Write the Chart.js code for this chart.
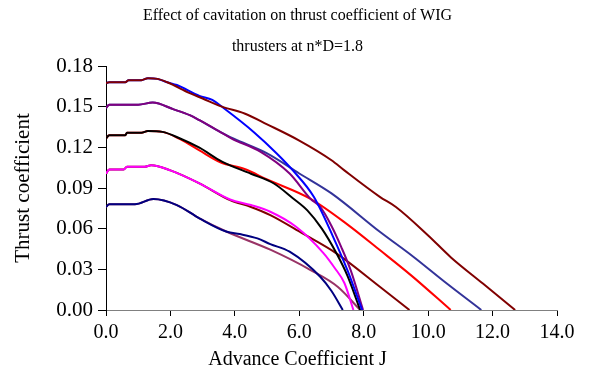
<!DOCTYPE html>
<html>
<head>
<meta charset="utf-8">
<script src="https://cdn.jsdelivr.net/npm/chart.js@4/dist/chart.umd.min.js"></script>
<style>
  html, body { margin: 0; padding: 0; background: #fff; }
  #wrap { width: 595px; height: 375px; }
</style>
</head>
<body>
<div id="wrap"><canvas id="myChart" width="595" height="375"></canvas></div>
<script>
// advance coefficient J and thrust coefficient Kt
const jDarkRed1 = [0, 0.1, 0.6, 0.7, 1.1, 1.3, 1.6, 1.9, 2.6, 3.0, 3.6, 4.3, 5.0, 6.0, 7.0, 7.4, 8.5, 9.0, 10.0, 10.7, 11.7, 12.7];
const ktDarkRed1 = [0.1675, 0.168, 0.168, 0.1695, 0.1695, 0.171, 0.1705, 0.168, 0.160, 0.156, 0.150, 0.145, 0.137, 0.125, 0.1105, 0.103, 0.0835, 0.076, 0.055, 0.039, 0.0195, 0];

const jBlue = [0, 0.1, 0.6, 0.7, 1.1, 1.3, 1.6, 1.9, 2.2, 2.9, 3.3, 3.65, 4.6, 5.3, 5.8, 6.45, 7.05, 7.5, 7.95];
const ktBlue = [0.1675, 0.168, 0.168, 0.1695, 0.1695, 0.171, 0.1705, 0.168, 0.166, 0.158, 0.155, 0.149, 0.131, 0.1155, 0.103, 0.0835, 0.054, 0.029, 0];

const jPurple = [0, 0.1, 1.0, 1.45, 2.1, 2.6, 2.9, 3.5, 3.9, 4.8, 5.7, 6.35, 6.65, 7.0, 7.3, 7.6, 7.98];
const ktPurple = [0.149, 0.1515, 0.1515, 0.153, 0.148, 0.1437, 0.140, 0.132, 0.1265, 0.1167, 0.1007, 0.082, 0.076, 0.062, 0.0466, 0.029, 0];

const jIndigo = [0, 0.1, 1.0, 1.45, 2.1, 2.6, 2.9, 3.5, 3.95, 5.0, 6.0, 7.0, 8.5, 9.5, 10.5, 11.65];
const ktIndigo = [0.149, 0.1515, 0.1515, 0.153, 0.148, 0.1437, 0.140, 0.132, 0.1265, 0.1155, 0.1007, 0.086, 0.0577, 0.040, 0.021, 0];

const jBlack = [0, 0.1, 0.6, 0.65, 1.1, 1.3, 1.75, 2.3, 2.9, 3.6, 4.5, 5.2, 5.8, 6.25, 6.7, 7.15, 7.5, 7.89];
const ktBlack = [0.1265, 0.129, 0.129, 0.1307, 0.1307, 0.132, 0.1314, 0.1265, 0.1197, 0.1095, 0.1005, 0.0935, 0.0825, 0.0735, 0.060, 0.042, 0.025, 0];

const jRed = [0, 0.1, 0.6, 0.65, 1.1, 1.3, 1.75, 2.3, 2.9, 3.55, 4.3, 5.0, 6.35, 7.5, 8.5, 9.5, 10.7];
const ktRed = [0.1265, 0.129, 0.129, 0.1307, 0.1307, 0.132, 0.1314, 0.126, 0.1177, 0.109, 0.104, 0.0963, 0.082, 0.063, 0.0442, 0.025, 0];

const jMagenta = [0, 0.1, 0.55, 0.65, 1.2, 1.4, 2.0, 2.9, 3.85, 4.5, 5.1, 5.9, 6.75, 7.1, 7.4, 7.68];
const ktMagenta = [0.1005, 0.1037, 0.1037, 0.1056, 0.1056, 0.1068, 0.103, 0.0934, 0.0815, 0.0774, 0.0725, 0.0614, 0.042, 0.031, 0.0199, 0];

const jDarkRed2 = [0, 0.1, 0.55, 0.65, 1.2, 1.4, 2.0, 2.9, 3.85, 4.5, 5.1, 6.1, 7.15, 8.5, 9.42];
const ktDarkRed2 = [0.1005, 0.1037, 0.1037, 0.1056, 0.1056, 0.1068, 0.103, 0.0934, 0.081, 0.076, 0.070, 0.0565, 0.0418, 0.0172, 0];

const jNavy = [0, 0.1, 0.9, 1.47, 2.2, 2.9, 3.75, 4.15, 4.7, 5.1, 5.7, 6.65, 7.0, 7.35];
const ktNavy = [0.076, 0.078, 0.078, 0.0818, 0.0774, 0.0676, 0.0577, 0.056, 0.0528, 0.0486, 0.043, 0.0245, 0.014, 0];

const jPlum = [0, 0.1, 0.9, 1.47, 2.2, 2.9, 3.75, 5.1, 6.35, 7.2, 7.89];
const ktPlum = [0.076, 0.078, 0.078, 0.0818, 0.0774, 0.0676, 0.0577, 0.0445, 0.0295, 0.017, 0];

const xTicks = [0, 2, 4, 6, 8, 10, 12, 14];
const yTicks = [0, 0.03, 0.06, 0.09, 0.12, 0.15, 0.18];

const pts = (xs, ys) => xs.map((x, i) => ({ x: x, y: ys[i] }));

const serie = (xs, ys, cor) => ({
  data: pts(xs, ys),
  borderColor: cor,
  borderWidth: 2,
  pointRadius: 0,
  fill: false,
  cubicInterpolationMode: 'monotone'
});

const fonte = 'Liberation Serif, Times New Roman, serif';

const criarGrafico = () => {
  const ctx = document.getElementById('myChart').getContext('2d');
  const myChart = new Chart(ctx, {
    type: 'line',
    data: {
      datasets: [
        serie(jDarkRed1, ktDarkRed1, '#800000'),
        serie(jBlue, ktBlue, '#0000ff'),
        serie(jPurple, ktPurple, '#800080'),
        serie(jIndigo, ktIndigo, '#333399'),
        serie(jBlack, ktBlack, '#000000'),
        serie(jRed, ktRed, '#ff0000'),
        serie(jMagenta, ktMagenta, '#ff00ff'),
        serie(jDarkRed2, ktDarkRed2, '#800000'),
        serie(jNavy, ktNavy, '#000080'),
        serie(jPlum, ktPlum, '#993366')
      ]
    },
    options: {
      responsive: false,
      animation: false,
      layout: { padding: 0 },
      plugins: {
        legend: { display: false },
        tooltip: { enabled: false },
        title: {
          display: true,
          text: ['Effect of cavitation on thrust coefficient of WIG', 'thrusters at n*D=1.8'],
          color: '#000',
          font: { family: fonte, size: 16, weight: 'normal', lineHeight: '31px' },
          padding: { top: 0, bottom: 4 }
        },
        // x axis title, centred on the whole chart like the original
        subtitle: {
          display: true,
          position: 'bottom',
          text: 'Advance Coefficient J',
          color: '#000',
          font: { family: fonte, size: 20, weight: 'normal', lineHeight: '24px' },
          padding: { top: 0, bottom: 3 }
        }
      },
      scales: {
        x: {
          type: 'linear',
          min: 0,
          max: 14,
          afterBuildTicks: s => { s.ticks = xTicks.map(v => ({ value: v })); },
          afterFit: s => { s.height = 38; },
          ticks: {
            color: '#000',
            padding: 5,
            font: { family: fonte, size: 20 },
            callback: v => v.toFixed(1)
          },
          grid: { display: true, drawOnChartArea: false, drawTicks: true, tickLength: 6, color: '#000' },
          border: { display: true, color: '#808080', width: 1 }
        },
        y: {
          min: 0,
          max: 0.18,
          afterBuildTicks: s => { s.ticks = yTicks.map(v => ({ value: v })); },
          afterFit: s => { s.width = 106; },
          ticks: {
            color: '#000',
            padding: 5,
            font: { family: fonte, size: 21 },
            callback: v => v.toFixed(2)
          },
          grid: { display: true, drawOnChartArea: false, drawTicks: true, tickLength: 8, color: '#000' },
          border: { display: true, color: '#000', width: 1 },
          title: {
            display: true,
            text: 'Thrust coefficient',
            color: '#000',
            font: { family: fonte, size: 21 },
            padding: { top: 11, bottom: 0 }
          }
        },
        folga: {
          position: 'right',
          display: true,
          afterFit: s => { s.width = 38; },
          ticks: { display: false },
          grid: { display: false },
          border: { display: false }
        }
      }
    }
  });
}

criarGrafico()
</script>
</body>
</html>
